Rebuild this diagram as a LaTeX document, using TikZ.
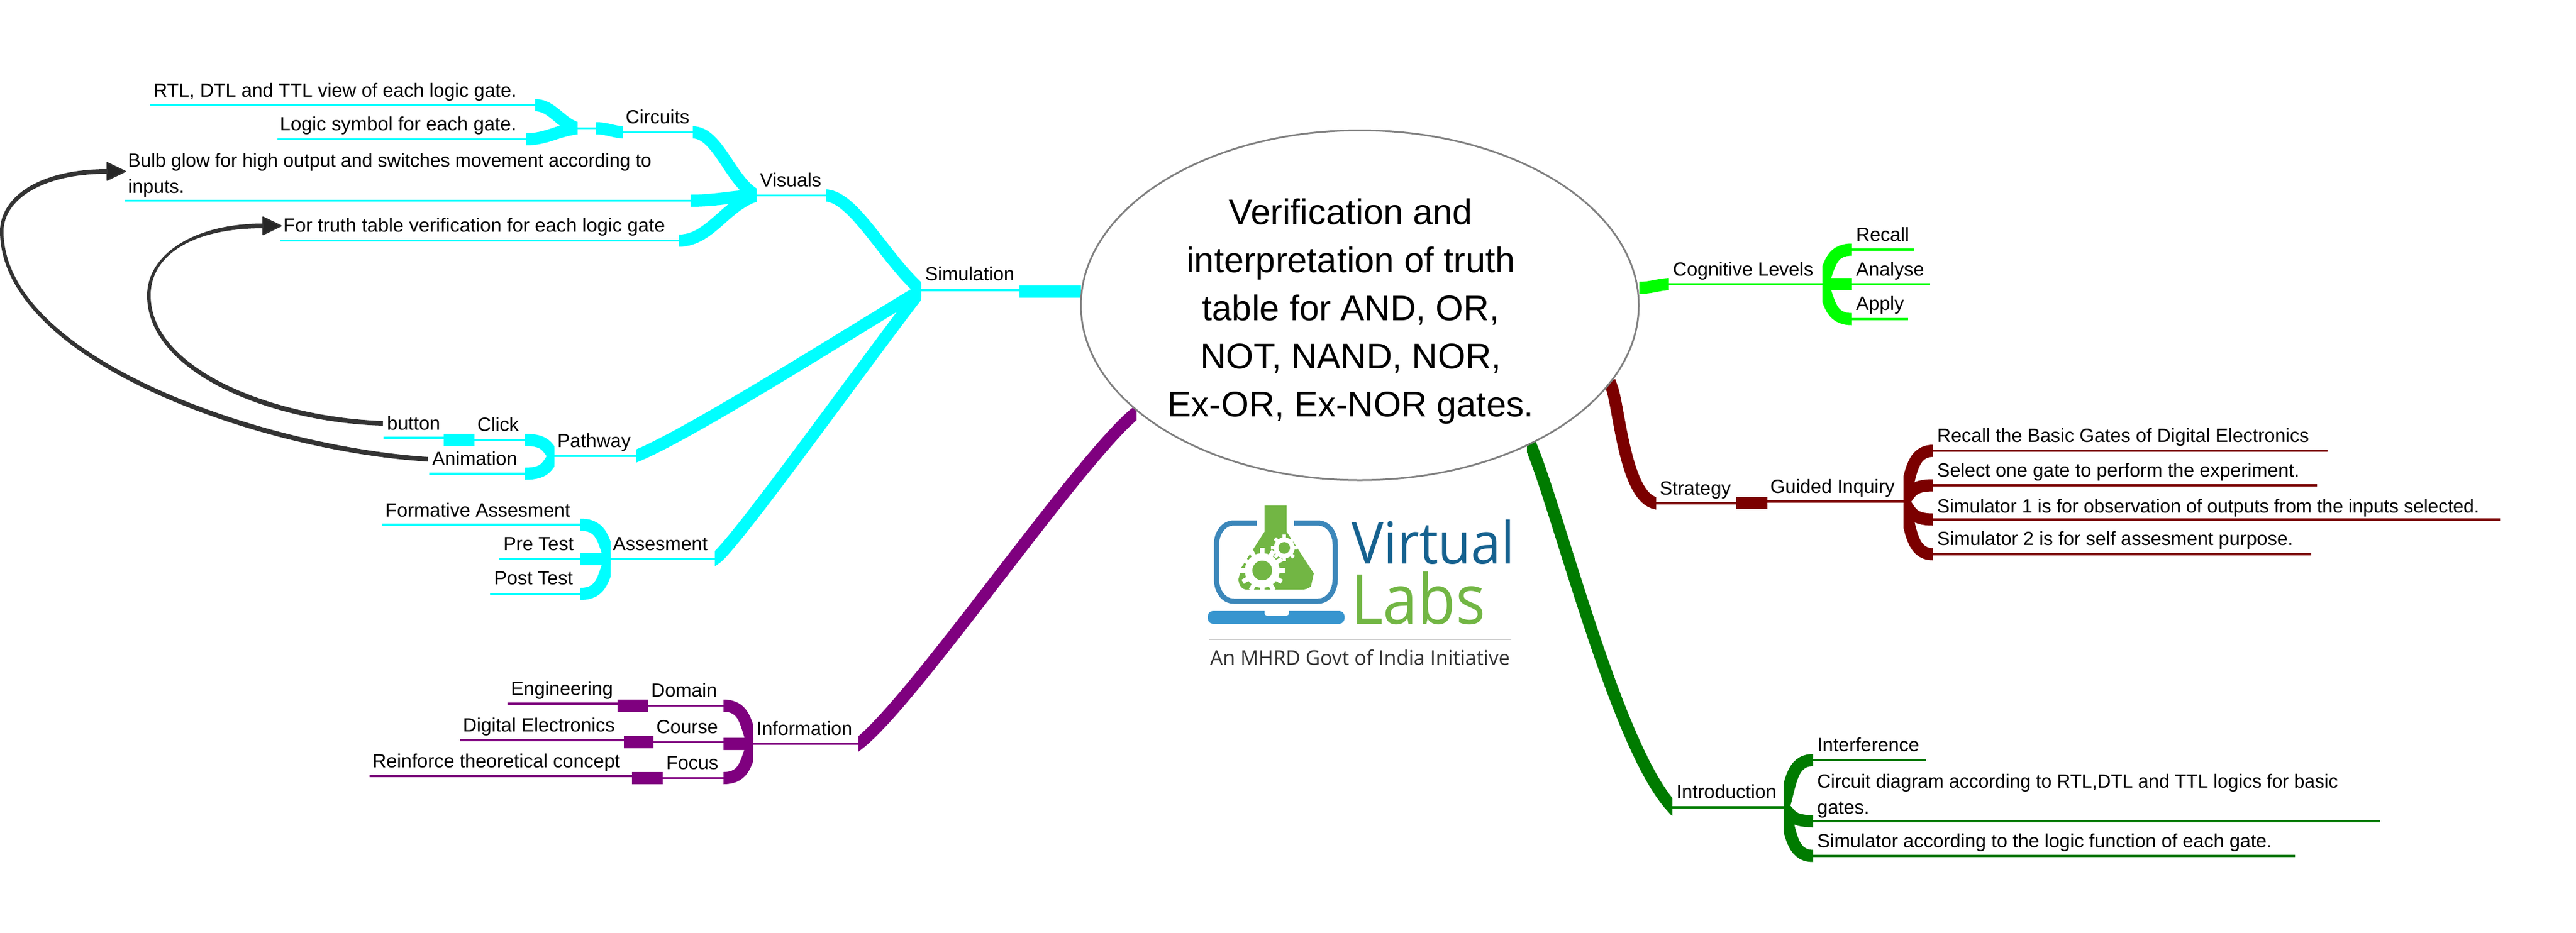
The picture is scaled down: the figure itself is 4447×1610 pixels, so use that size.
\documentclass[tikz,border=0pt]{standalone}
\usepackage{graphicx}
\usepackage{fontspec}
\setmainfont{Liberation Sans}
\newfontfamily\logofont{Open Sans}
\usetikzlibrary{calc,shapes.geometric}
\definecolor{cCyan}{HTML}{00FFFF}
\definecolor{cLime}{HTML}{00FF00}
\definecolor{cMaroon}{HTML}{7B0000}
\definecolor{cForest}{HTML}{007B00}
\definecolor{cPurple}{HTML}{7F007F}
\definecolor{cDark}{HTML}{333333}
\definecolor{cLogoBlue}{HTML}{3C87BA}
\definecolor{cLogoBase}{HTML}{3795CF}
\definecolor{cLogoGreen}{HTML}{72B644}
\definecolor{cLogoText}{HTML}{15618F}
\tikzset{
  lab/.style={font=\fontsize{33}{45}\selectfont,inner sep=0pt,anchor=base west,align=left,text=black},
  rule/.style={line width=3.5pt},
  ribbon/.style={line width=21pt,line cap=rect},
}
% thick ribbon between two named coordinates, its ends cut vertically
\newcommand\tapf[6]{%
  \coordinate (tmpa) at ($(#2)!#4!(#3)$);
  \coordinate (tmpb) at ($(#2)!#5!(#3)$);
  \coordinate (tmpc) at ($(#2)!#6!(#3)$);
  \coordinate (ctla) at (tmpa |- #2);
  \coordinate (ctlb) at (tmpb |- tmpc);
  \begin{scope}
    \clip (#2 |- ytop) rectangle (#3 |- ybot);
    \draw[ribbon,#1] (#2) .. controls (ctla) and (ctlb) .. (#3);
  \end{scope}
}
\newcommand\tap[3]{\tapf{#1}{#2}{#3}{.4}{.6}{.8}}
\newcommand\brc[3]{\tapf{#1}{#2}{#3}{.75}{.75}{.5}}
% ribbon with explicit control coordinates; #6 gives the x of the cut at the first end
\newcommand\tapc[6]{%
  \coordinate (ctla) at #4;
  \coordinate (ctlb) at #5;
  \begin{scope}
    \clip (#6 |- ytop) rectangle (#3 |- ybot);
    \draw[ribbon,#1] (#2) .. controls (ctla) and (ctlb) .. (#3);
  \end{scope}
}
\begin{document}
\begin{tikzpicture}[x=1pt,y=-1pt]
\useasboundingbox (0,0) rectangle (4447,1610);
\fill[white] (0,0) rectangle (4447,1610);
\coordinate (ytop) at (0,0);
\coordinate (ybot) at (0,1610);

%%%%% Cyan: Simulation
\coordinate (rtlA) at (259,181.5);   \coordinate (rtlB) at (924,181.5);
\coordinate (logA) at (479,240.5);   \coordinate (logB) at (908,240.5);
\coordinate (jcA)  at (997,221.5);   \coordinate (jcB)  at (1029,221.5);
\coordinate (cirA) at (1075,228.5);  \coordinate (cirB) at (1196,228.5);
\coordinate (bulA) at (216,346.5);   \coordinate (bulB) at (1192,346.5);
\coordinate (truA) at (484,415.5);   \coordinate (truB) at (1172,415.5);
\coordinate (visA) at (1306,337.5);  \coordinate (visB) at (1426,337.5);
\coordinate (simA) at (1590,501);    \coordinate (simB) at (1760,501);
\coordinate (simC) at (1760,503.5);  \coordinate (simD) at (1866,503.5);

\draw[rule,cCyan] (rtlA) -- (rtlB);
\draw[rule,cCyan] (logA) -- (logB);
\draw[rule,cCyan] (jcA) -- (jcB);
\draw[rule,cCyan] (cirA) -- (cirB);
\draw[rule,cCyan] (bulA) -- (bulB);
\draw[rule,cCyan] (truA) -- (truB);
\draw[rule,cCyan] (visA) -- (visB);
\draw[rule,cCyan] (simA) -- (simB);
\tap{cCyan}{rtlB}{jcA}
\tap{cCyan}{logB}{jcA}
\tap{cCyan}{jcB}{cirA}
\tap{cCyan}{cirB}{visA}
\tap{cCyan}{bulB}{visA}
\tap{cCyan}{truB}{visA}
\tapc{cCyan}{visB}{simA}{(1475,340)}{(1530,450)}{visB}
\tap{cCyan}{simC}{simD}

\coordinate (butA) at (662,756);     \coordinate (butB) at (766,756);
\coordinate (boxA) at (766,759.5);   \coordinate (boxB) at (819,759.5);
\coordinate (cliB) at (906,759.5);
\coordinate (aniA) at (741,818);     \coordinate (aniB) at (906,818);
\coordinate (patA) at (957,787.5);   \coordinate (patB) at (1098,787.5);
\draw[rule,cCyan] (butA) -- (butB);
\draw[rule,cCyan] (boxB) -- (cliB);
\draw[rule,cCyan] (aniA) -- (aniB);
\draw[rule,cCyan] (patA) -- (patB);
\tap{cCyan}{boxA}{boxB}
\brc{cCyan}{cliB}{patA}
\brc{cCyan}{aniB}{patA}
\tapc{cCyan}{patB}{simA}{(1190,750)}{(1450,585)}{patB}

\coordinate (forA) at (659,906);     \coordinate (forB) at (1002,906);
\coordinate (preA) at (862,965);     \coordinate (preB) at (1002,965);
\coordinate (posA) at (846,1025.5);  \coordinate (posB) at (1002,1025.5);
\coordinate (assA) at (1054,965);    \coordinate (assB) at (1234,965);
\draw[rule,cCyan] (forA) -- (forB);
\draw[rule,cCyan] (preA) -- (preB);
\draw[rule,cCyan] (posA) -- (posB);
\draw[rule,cCyan] (assA) -- (assB);
\brc{cCyan}{forB}{assA}
\tap{cCyan}{preB}{assA}
\brc{cCyan}{posB}{assA}
\tapc{cCyan}{assB}{simA}{(1262,950)}{(1490,630)}{assB}

%%%%% Purple: Information
\coordinate (engA) at (876,1215);    \coordinate (engB) at (1066,1215);
\coordinate (eboA) at (1066,1218.5); \coordinate (eboB) at (1119,1218.5);
\coordinate (domB) at (1249,1218.5);
\coordinate (digA) at (794,1278);    \coordinate (digB) at (1077,1278);
\coordinate (dboA) at (1077,1281.5); \coordinate (dboB) at (1128,1281.5);
\coordinate (couB) at (1249,1284.5);
\coordinate (reiA) at (638,1340);    \coordinate (reiB) at (1091,1340);
\coordinate (rboA) at (1091,1343.5); \coordinate (rboB) at (1144,1343.5);
\coordinate (focB) at (1249,1343.5);
\coordinate (infA) at (1300,1284.5); \coordinate (infB) at (1482,1284.5);
\coordinate (infC) at (1962,712);
\draw[rule,cPurple] (engA) -- (engB);
\draw[rule,cPurple] (eboB) -- (domB);
\draw[rule,cPurple] (digA) -- (digB);
\draw[rule,cPurple] (dboB) -- (couB |- dboB);
\draw[rule,cPurple] (reiA) -- (reiB);
\draw[rule,cPurple] (rboB) -- (focB);
\draw[rule,cPurple] (infA) -- (infB);
\tap{cPurple}{eboA}{eboB}
\tap{cPurple}{dboA}{dboB}
\tap{cPurple}{rboA}{rboB}
\brc{cPurple}{domB}{infA}
\tap{cPurple}{couB}{infA}
\brc{cPurple}{focB}{infA}
\tapc{cPurple}{infB}{infC}{(1578,1211)}{(1866,787)}{infB}

%%%%% Lime: Cognitive Levels
\coordinate (limA) at (2830,497);    \coordinate (limB) at (2881,490.5);
\coordinate (cogB) at (3146,490.5);  \coordinate (ljcB) at (3197,490.5);
\coordinate (recA) at (3197,431);    \coordinate (recB) at (3304,431);
\coordinate (anaB) at (3332,490.5);
\coordinate (appA) at (3197,551);    \coordinate (appB) at (3294,551);
\draw[rule,cLime] (limB) -- (cogB);
\draw[rule,cLime] (ljcB) -- (anaB);
\draw[rule,cLime] (recA) -- (recB);
\draw[rule,cLime] (appA) -- (appB);
\tap{cLime}{limA}{limB}
\tap{cLime}{cogB}{ljcB}
\brc{cLime}{recA}{cogB}
\brc{cLime}{appA}{cogB}

%%%%% Maroon: Strategy
\coordinate (strA) at (2782,668);    \coordinate (strB) at (2859,869);
\coordinate (strX) at (2772,0);
\coordinate (strC) at (2997,869);    \coordinate (strD) at (2997,868);
\coordinate (strE) at (3051,868);    \coordinate (guiB) at (3286,866);
\coordinate (s1A) at (3337,778.5);   \coordinate (s1B) at (4018,778.5);
\coordinate (s2A) at (3337,838);     \coordinate (s2B) at (4000,838);
\coordinate (s3A) at (3337,897);     \coordinate (s3B) at (4316,897);
\coordinate (s4A) at (3337,957);     \coordinate (s4B) at (3990,957);
\draw[rule,cMaroon] (strB) -- (strC);
\draw[rule,cMaroon] (strE |- guiB) -- (guiB);
\draw[rule,cMaroon] (s1A) -- (s1B);
\draw[rule,cMaroon] (s2A) -- (s2B);
\draw[rule,cMaroon] (s3A) -- (s3B);
\draw[rule,cMaroon] (s4A) -- (s4B);
\tapc{cMaroon}{strA}{strB}{(2795,700)}{(2805,860)}{strX}
\tap{cMaroon}{strD}{strE}
\brc{cMaroon}{s1A}{guiB}
\brc{cMaroon}{s2A}{guiB}
\brc{cMaroon}{s3A}{guiB}
\brc{cMaroon}{s4A}{guiB}

%%%%% Forest: Introduction
\coordinate (froA) at (2642,768);    \coordinate (froB) at (2887,1394);
\coordinate (froX) at (2636,0);
\coordinate (intB) at (3079,1394);
\coordinate (i1A) at (3130,1312.5);  \coordinate (i1B) at (3325,1312.5);
\coordinate (i2A) at (3130,1418);    \coordinate (i2B) at (4109,1418);
\coordinate (i3A) at (3130,1478);    \coordinate (i3B) at (3962,1478);
\draw[rule,cForest] (froB) -- (intB);
\draw[rule,cForest] (i1A) -- (i1B);
\draw[rule,cForest] (i2A) -- (i2B);
\draw[rule,cForest] (i3A) -- (i3B);
\tapc{cForest}{froA}{froB}{(2690,880)}{(2790,1290)}{froX}
\brc{cForest}{i1A}{intB}
\brc{cForest}{i2A}{intB}
\brc{cForest}{i3A}{intB}

%%%%% Central topic
\node[draw=gray,line width=3pt,fill=white,ellipse,inner sep=0pt,minimum width=963pt,
      minimum height=604pt] (hub) at (2347.5,527) {};
\node[inner sep=0pt,align=center,font=\fontsize{61.5}{83}\selectfont] (title) at (2332,538)
  {Verification and\\interpretation of truth\\table for AND, OR,\\NOT, NAND, NOR,\\Ex-OR, Ex-NOR gates.};

%%%%% Labels
\node[lab] (rtl) at (265,167) {RTL, DTL and TTL view of each logic gate.};
\node[lab] (logic) at (483,225) {\scalebox{1.012}[1]{Logic symbol for each gate.}};
\node[lab] (circuits) at (1080,213) {Circuits};
\node[lab] (visuals) at (1312,322) {Visuals};
\node[lab] (bulb) at (221,333) {\scalebox{.987}[1]{Bulb glow for high output and switches movement according to}\\inputs.};
\node[lab] (truth) at (489,400) {\scalebox{1.012}[1]{For truth table verification for each logic gate}};
\node[lab] (simulation) at (1597,484) {Simulation};
\node[lab] (button) at (668,742) {button};
\node[lab] (click) at (824,744) {Click};
\node[lab] (animation) at (746,803) {Animation};
\node[lab] (pathway) at (962,772) {Pathway};
\node[lab] (formative) at (665,892) {Formative Assesment};
\node[lab] (pretest) at (869,950) {Pre Test};
\node[lab] (posttest) at (853,1009) {Post Test};
\node[lab] (assesment) at (1058,950) {Assesment};
\node[lab] (engineering) at (882,1200) {Engineering};
\node[lab] (domain) at (1124,1203) {Domain};
\node[lab] (digital) at (799,1263) {Digital Electronics};
\node[lab] (course) at (1133,1266) {Course};
\node[lab] (reinforce) at (643,1325) {Reinforce theoretical concept};
\node[lab] (focus) at (1150,1328) {Focus};
\node[lab] (information) at (1306,1269) {Information};
\node[lab] (cognitive) at (2888,476) {Cognitive Levels};
\node[lab] (recall) at (3204,416) {Recall};
\node[lab] (analyse) at (3204,476) {Analyse};
\node[lab] (apply) at (3204,535) {Apply};
\node[lab] (strategy) at (2865,854) {Strategy};
\node[lab] (guided) at (3056,851) {Guided Inquiry};
\node[lab] (sa) at (3344,763.5) {Recall the Basic Gates of Digital Electronics};
\node[lab] (sb) at (3344,823) {Select one gate to perform the experiment.};
\node[lab] (sc) at (3344,885) {\scalebox{.985}[1]{Simulator 1 is for observation of outputs from the inputs selected.}};
\node[lab] (sd) at (3344,941) {Simulator 2 is for self assesment purpose.};
\node[lab] (introduction) at (2894,1378) {Introduction};
\node[lab] (interference) at (3137,1297) {Interference};
\node[lab] (cdiag) at (3137,1405) {\scalebox{.985}[1]{Circuit diagram according to RTL,DTL and TTL logics for basic}\\gates.};
\node[lab] (slogic) at (3137,1463) {Simulator according to the logic function of each gate.};

%%%%% Cross links
\coordinate (animS) at (739,793);  \coordinate (bulbE) at (185,296);  \coordinate (bulbT) at (216,296);
\coordinate (butS) at (661,731);   \coordinate (truE) at (454,390);   \coordinate (truT) at (485,390);
\fill[cDark] ([yshift=4pt]animS) .. controls (452,770.5) and (8,618) .. (6,400)
   .. controls (6,345) and (72,300) .. ([yshift=-4pt]bulbE)
   -- ([yshift=4pt]bulbE) .. controls (68,292) and (0,340) .. (0,400)
   .. controls (2,624) and (448,779.5) .. ([yshift=-4pt]animS) -- cycle;
\fill[cDark] ([yshift=4pt]butS) .. controls (472,720.5) and (260,638) .. (260,510)
   .. controls (260,442) and (330,394) .. ([yshift=-4pt]truE)
   -- ([yshift=4pt]truE) .. controls (334,386) and (254,440) .. (254,510)
   .. controls (254,644) and (468,729.5) .. ([yshift=-4pt]butS) -- cycle;
\draw[fill=black!85,draw=cDark,line width=2.5pt,line join=round]
   (bulbT) -- ([yshift=15pt]bulbE) -- ([yshift=-15pt]bulbE) -- cycle;
\draw[fill=black!85,draw=cDark,line width=2.5pt,line join=round]
   (truT) -- ([yshift=15pt]truE) -- ([yshift=-15pt]truE) -- cycle;

%%%%% Logo
\fill[cLogoGreen] (2183,873) -- (2221,873) -- (2221,918) -- (2268,990) -- (2263,1013)
   to[out=-150,in=0] (2248,1018) -- (2152,1018) to[out=180,in=-90] (2138,1000)
   -- (2143,980) -- (2183,918) -- cycle;
\draw[cLogoBlue,line width=9pt] (2170,903) -- (2130,903) to[out=180,in=90] (2100,940) -- (2100,1000)
   to[out=-90,in=180] (2130,1038) -- (2275,1038) to[out=0,in=-90] (2305,1000) -- (2305,940)
   to[out=90,in=0] (2275,903) -- (2234,903);
\foreach \a in {0,30,...,330}{
  \fill[white,rotate around={\a:(2179,985)}] (2175,946) rectangle (2183,958);
}
\fill[white] (2179,985) circle [radius=30pt];
\fill[cLogoGreen] (2179,985) circle [radius=17pt];
\foreach \a in {0,45,...,315}{
  \fill[white,rotate around={\a:(2217,946)}] (2214,923) rectangle (2220,932);
}
\fill[white] (2217,946) circle [radius=18pt];
\fill[cLogoGreen] (2217,946) circle [radius=10pt];
\fill[cLogoBase,rounded corners=9pt] (2085,1055) rectangle (2321,1077);
\fill[white,rounded corners=4pt] (2183,1050) -- (2225,1050) -- (2225,1063) -- (2183,1063) -- cycle;
\node[inner sep=0pt,anchor=base west,text=cLogoText,font=\logofont\fontsize{100}{100}\selectfont] (lvirt) at (2333,973) {\scalebox{.93}[1]{Virtual}};
\node[inner sep=0pt,anchor=base west,text=cLogoGreen,font=\logofont\fontsize{119}{119}\selectfont] (llabs) at (2332,1077) {\scalebox{.9}[1]{Labs}};
\draw[black!22,line width=2.5pt] (2087,1104) -- (2609,1104);
\node[inner sep=0pt,anchor=base west,text=black!80,font=\logofont\fontsize{35}{35}\selectfont] (linit) at (2089,1148) {\scalebox{.99}[1]{An MHRD Govt of India Initiative}};
\end{tikzpicture}
\end{document}
